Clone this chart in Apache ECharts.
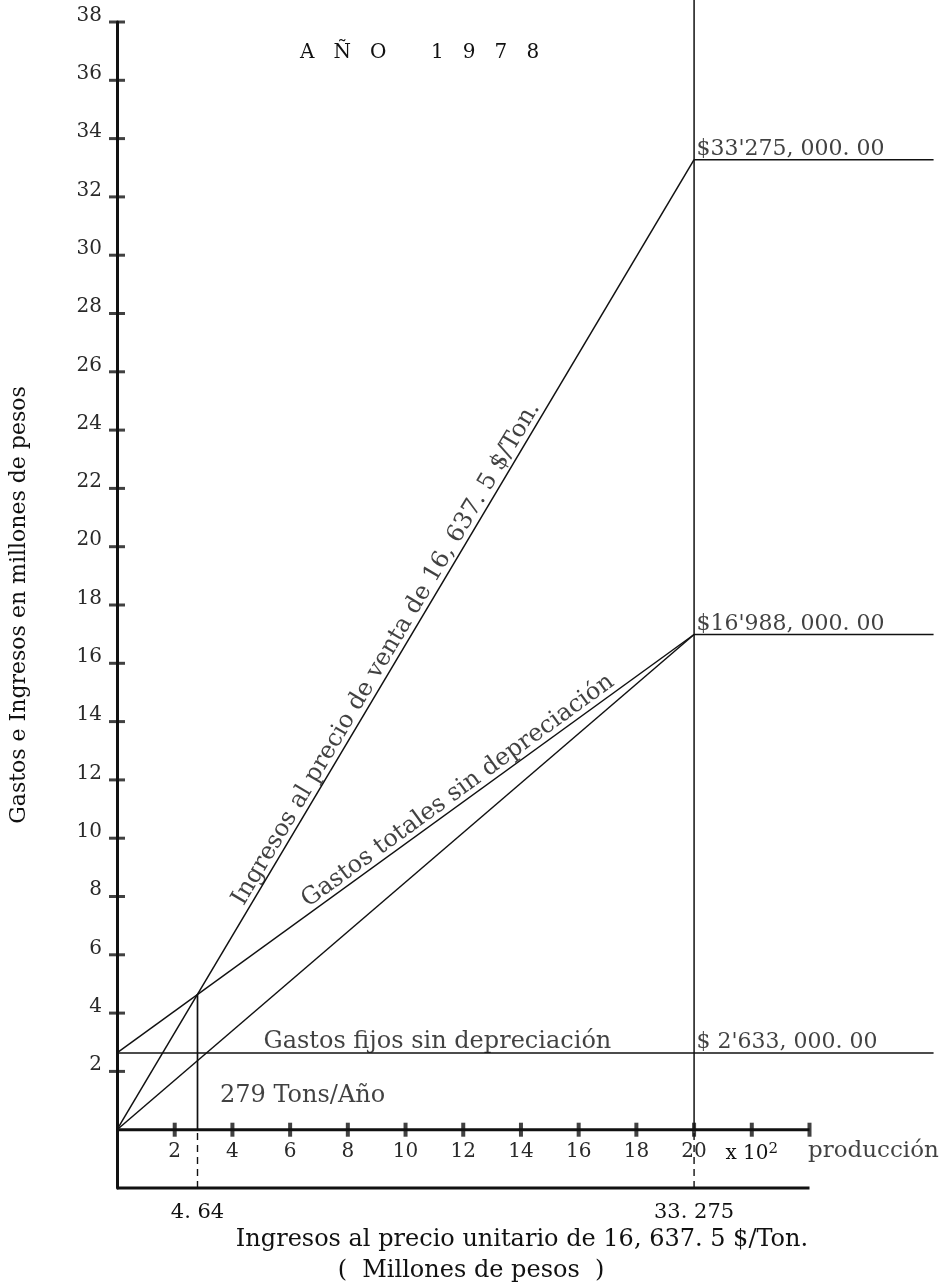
<!DOCTYPE html>
<html><head><meta charset="utf-8">
<script src="https://cdn.jsdelivr.net/npm/echarts@6/dist/echarts.min.js"></script>
<style>html,body{margin:0;padding:0;background:#fff}#c{width:949px;height:1286px}</style>
</head><body><div id="c"></div>
<script>
// ---- Data: production in hundreds of tons/year, money in millions of pesos ----
const prodTickValues = [2, 4, 6, 8, 10, 12, 14, 16, 18, 20, 22, 24];
const prodLabelValues = [2, 4, 6, 8, 10, 12, 14, 16, 18, 20];
const unitLabelValue = [22];
const moneyTickValues = [2, 4, 6, 8, 10, 12, 14, 16, 18, 20, 22, 24, 26, 28, 30, 32, 34, 36, 38];

const incomeLine = [[0, 0], [20, 33.275]];
const totalCostLine = [[0, 2.633], [20, 16.988]];
const variableLine = [[0, 0], [20, 16.988]];
const fixedCostLine = [[0, 2.633], [28.3, 2.633]];
const incomeExtension = [[20, 33.275], [28.3, 33.275]];
const totalCostExtension = [[20, 16.988], [28.3, 16.988]];
const capacityLine = [[20, 0], [20, 38.8]];
const capacityDash = [[20, -2], [20, 0]];
const breakEvenLine = [[2.79, 0], [2.79, 4.64]];
const breakEvenDash = [[2.79, -2], [2.79, 0]];
const productionAxisLine = [[0, 0], [24, 0]];
const incomeAxisLine = [[0, -2], [24, -2]];

const incomeAxisValues = [2.79, 20];
const incomeAxisLabels = ['4. 64', '33. 275'];

const valueTags = [
  [20, 33.275, "$33'275, 000. 00"],
  [20, 16.988, "$16'988, 000. 00"],
  [20, 2.633, "$ 2'633, 000. 00"]
];
const fixedCostTag = [5.06, 2.633, 'Gastos fijos sin depreciación'];
const breakEvenTag = [2.79, 0, '279 Tons/Año'];
const productionTag = [24, 0, 'producción'];
const incomeTag = [9.69, 'Ingresos al precio de venta de 16, 637. 5 $/Ton.'];
const totalCostTag = [12.06, 'Gastos totales sin depreciación'];

// ---- helpers ----
function lineAt(line, x) {
  const [[x0, y0], [x1, y1]] = line;
  return y0 + (y1 - y0) * (x - x0) / (x1 - x0);
}
const FONT = 'DejaVu Serif';
const INK = '#111';
const TXT = '#111';
const XMAX = 28.8;
function seg(data, width, dashed) {
  return {
    type: 'line', data: data, symbol: 'none', clip: false, silent: true, z: 3,
    xAxisIndex: 0, yAxisIndex: 0,
    lineStyle: { color: INK, width: width, type: dashed ? [7, 5] : 'solid' }
  };
}
function tagSeries(items, labelOpts) {
  return {
    type: 'scatter', silent: true, z: 7, symbolSize: 1, xAxisIndex: 0, yAxisIndex: 0,
    itemStyle: { color: 'transparent' },
    label: Object.assign({ show: true, fontSize: 24, color: TXT, fontFamily: FONT }, labelOpts),
    data: items
  };
}

const chart = echarts.init(document.getElementById('c'), null, { renderer: 'canvas' });
const option = {
  animation: false,
  backgroundColor: '#fff',
  textStyle: { fontFamily: FONT },
  grid: [
    { left: 117, right: 1, top: 22, bottom: 98, containLabel: false, outerBoundsMode: 'none' },
    { left: 117, right: 1, top: 1128, bottom: 156, containLabel: false, outerBoundsMode: 'none' }
  ],
  xAxis: [
    { // bottom axis: ingresos
      gridIndex: 0, type: 'value', min: 0, max: XMAX, interval: 2, position: 'bottom',
      axisLine: { show: false, onZero: false }, axisTick: { show: false }, splitLine: { show: false },
      axisLabel: {
        customValues: incomeAxisValues, fontSize: 21, color: TXT, margin: 14, fontFamily: FONT,
        formatter: function (v) { return incomeAxisLabels[incomeAxisValues.indexOf(v)]; }
      }
    },
    { // production axis
      gridIndex: 1, type: 'value', min: 0, max: XMAX, interval: 2, position: 'bottom',
      axisLine: { show: false, onZero: false }, axisTick: { show: false }, splitLine: { show: false },
      axisLabel: {
        customValues: prodLabelValues.concat(unitLabelValue),
        fontSize: 20, color: '#2a2a2a', margin: 12, fontFamily: FONT,
        formatter: function (v) { return v === unitLabelValue[0] ? '{e|x 10}{s|2}' : String(v); },
        rich: {
          e: { fontSize: 20, color: TXT, fontFamily: FONT, lineHeight: 24 },
          s: { fontSize: 15, color: TXT, fontFamily: FONT, verticalAlign: 'top', lineHeight: 24 }
        }
      }
    }
  ],
  yAxis: [
    {
      gridIndex: 0, type: 'value', min: -2, max: 38, interval: 2,
      axisLine: { show: true, onZero: false, lineStyle: { color: INK, width: 3 } },
      axisTick: { show: false }, splitLine: { show: false },
      axisLabel: { customValues: moneyTickValues, fontSize: 20, color: '#2a2a2a', margin: 15,
        verticalAlign: 'bottom', lineHeight: 13, fontFamily: FONT },
      name: 'Gastos e Ingresos en millones de pesos', nameLocation: 'middle', nameRotate: 90, nameGap: 87,
      nameMoveOverlap: false,
      nameTextStyle: { fontSize: 22, color: TXT, fontFamily: FONT }
    },
    { gridIndex: 1, type: 'value', min: 0, max: 1, show: false }
  ],
  series: [
    seg(incomeLine, 1.5), seg(totalCostLine, 1.5), seg(variableLine, 1.5),
    seg(fixedCostLine, 1.5), seg(incomeExtension, 1.5), seg(totalCostExtension, 1.5),
    seg(capacityLine, 1.5), seg(capacityDash, 1.4, true),
    seg(breakEvenLine, 1.7), seg(breakEvenDash, 1.4, true),
    seg(productionAxisLine, 3), seg(incomeAxisLine, 3),
    // tick marks crossing the axes
    { type: 'scatter', silent: true, z: 6, symbol: 'rect', symbolSize: [16, 3], itemStyle: { color: INK },
      data: moneyTickValues.map(function (v) { return [0, v]; }) },
    { type: 'scatter', silent: true, z: 6, symbol: 'rect', symbolSize: [4, 14], itemStyle: { color: INK },
      data: prodTickValues.map(function (v) { return [v, 0]; }) },
    // horizontal annotations
    tagSeries(valueTags.map(function (t) { return { value: [t[0], t[1]], label: { formatter: t[2] } }; }),
      { position: [3, 1], align: 'left', verticalAlign: 'bottom', fontSize: 22 }),
    tagSeries([{ value: [fixedCostTag[0], fixedCostTag[1]], label: { formatter: fixedCostTag[2] } }],
      { position: [1, 1], align: 'left', verticalAlign: 'bottom' }),
    tagSeries([{ value: [breakEvenTag[0], breakEvenTag[1]], label: { formatter: breakEvenTag[2] } }],
      { position: [23, -21], align: 'left', verticalAlign: 'bottom' }),
    tagSeries([{ value: [productionTag[0], productionTag[1]], label: { formatter: productionTag[2] } }],
      { position: [-1, 22], align: 'left', verticalAlign: 'middle', fontSize: 23 }),
    // rotated labels along the lines
    tagSeries([
        { value: [incomeTag[0], lineAt(incomeLine, incomeTag[0])], label: { formatter: incomeTag[1], rotate: 59.3 } },
        { value: [totalCostTag[0], lineAt(totalCostLine, totalCostTag[0])], label: { formatter: totalCostTag[1], rotate: 36 } }
      ], { position: 'inside', align: 'center', verticalAlign: 'bottom', fontSize: 24 })
  ],
  graphic: [
    { type: 'text', x: 300, y: 53, silent: true,
      style: { text: 'A   Ñ   O       1   9   7   8', font: '20px "DejaVu Serif"', fill: TXT, verticalAlign: 'middle' } },
    { type: 'text', x: 522, y: 1240, silent: true,
      style: { text: 'Ingresos al precio unitario de 16, 637. 5 $/Ton.', font: '24px "DejaVu Serif"', fill: TXT, align: 'center', verticalAlign: 'middle' } },
    { type: 'text', x: 471, y: 1271, silent: true,
      style: { text: '(  Millones de pesos  )', font: '24px "DejaVu Serif"', fill: TXT, align: 'center', verticalAlign: 'middle' } }
  ]
};
chart.setOption(option);
</script>
</body></html>
